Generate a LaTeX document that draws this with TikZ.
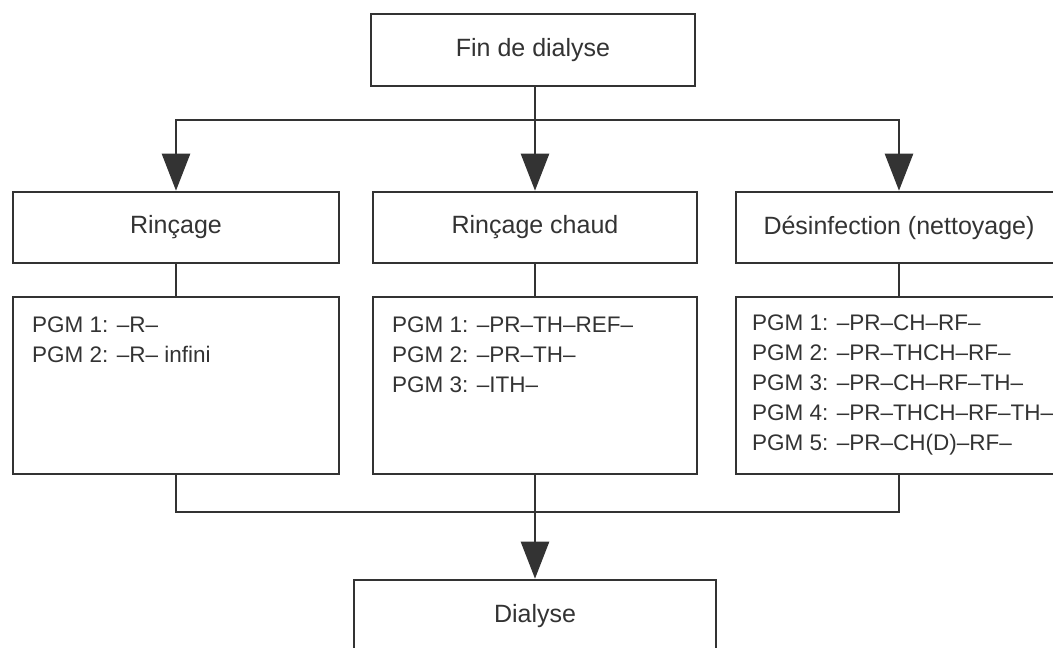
\documentclass[tikz,border=0pt]{standalone}
\usepackage{fontspec}
\setmainfont{Liberation Sans}
\usetikzlibrary{arrows.meta}
\definecolor{ink}{HTML}{333333}
\tikzset{
  titlebox/.style={draw=ink,line width=2.6pt,minimum width=326pt,minimum height=71pt,inner sep=0pt,font=\fontsize{25}{30}\selectfont,text=ink},
  listbox/.style={draw=ink,line width=2.6pt,minimum width=326pt,minimum height=177pt,inner sep=0pt},
  listtext/.style={anchor=north west,align=left,inner sep=0pt,font=\fontsize{22.5}{30}\selectfont,text=ink},
  flow/.style={draw=ink,line width=2.6pt},
  arr/.style={flow,-{Triangle[width=28pt,length=37pt]}}
}
\begin{document}
\begin{tikzpicture}[x=1pt,y=-1pt]
\useasboundingbox (0,0) rectangle (1053,648);
\clip (0,0) rectangle (1053,648);
\fill[white] (0,0) rectangle (1053,648);

\node[titlebox,minimum width=324pt,minimum height=72pt] (fin) at (533,50) {Fin de dialyse};

\node[titlebox] (rin) at (176,227.5) {Rinçage};
\node[titlebox,minimum width=324pt] (chaud) at (535,227.5) {Rinçage chaud};
\node[titlebox] (des) at (899,227.5) {Désinfection (nettoyage)};

\node[listbox] (l1) at (176,385.5) {};
\node[listbox,minimum width=324pt] (l2) at (535,385.5) {};
\node[listbox] (l3) at (899,385.5) {};

\node[listtext] (t1) at (32,317) {PGM 1: –R–\\PGM 2: –R– infini};
\node[listtext] (t2) at (392,317) {PGM 1: –PR–TH–REF–\\PGM 2: –PR–TH–\\PGM 3: –ITH–};
\node[listtext] (t3) at (752,315) {PGM 1: –PR–CH–RF–\\PGM 2: –PR–THCH–RF–\\PGM 3: –PR–CH–RF–TH–\\PGM 4: –PR–THCH–RF–TH–\\PGM 5: –PR–CH(D)–RF–};

\node[titlebox,minimum width=362pt,minimum height=72pt] (dia) at (535,616) {Dialyse};

\coordinate (split) at (535,120);
\coordinate (merge) at (535,512);

\draw[flow] (fin.south -| split) -- (split);
\draw[arr] (split) -- (chaud.north);
\draw[arr] (split) -| (rin.north);
\draw[arr] (split) -| (des.north);

\draw[flow] (rin.south) -- (l1.north);
\draw[flow] (chaud.south) -- (l2.north);
\draw[flow] (des.south) -- (l3.north);

\draw[flow] (l1.south) |- (merge) -| (l3.south);
\draw[flow] (l2.south) -- (merge);
\draw[arr] (merge) -- (dia.north);
\end{tikzpicture}
\end{document}
